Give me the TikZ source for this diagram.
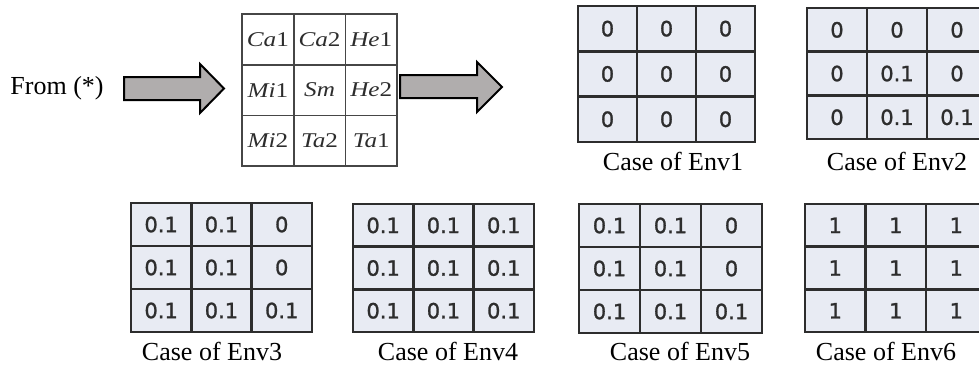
\documentclass[tikz,border=0pt]{standalone}
\usepackage{fontspec}
\setmainfont{Liberation Serif}
\newfontfamily\numfont[FakeBold=1.2]{DejaVu Sans}
\newfontfamily\labfont[FakeStretch=1.2]{Liberation Serif}
\definecolor{cellfill}{RGB}{232,235,243}
\definecolor{gridline}{RGB}{45,45,45}
\definecolor{numgray}{RGB}{45,45,45}
\definecolor{labline}{RGB}{70,70,70}
\definecolor{labtext}{RGB}{45,45,45}
\definecolor{arrowfill}{RGB}{176,173,173}
\tikzset{
  envcell/.style={draw=gridline, line width=2.6pt, fill=cellfill, inner sep=0pt, outer sep=0pt,
    font=\numfont\fontsize{21}{21}\selectfont, text=numgray, anchor=center},
  labcell/.style={draw=labline, line width=1.6pt, fill=white, inner sep=0pt, outer sep=0pt,
    font=\labfont\fontsize{21}{21}\selectfont, text=labtext, anchor=center},
  captext/.style={font=\fontsize{26}{26}\selectfont, inner sep=0pt, anchor=base},
  blockarrow/.style={draw=black, line width=2pt, fill=arrowfill, line join=miter}
}
\newcommand{\envgrid}[6]{%
  \foreach \v [count=\i from 0] in {#6} {
    \pgfmathtruncatemacro\rr{div(\i,3)}
    \pgfmathtruncatemacro\cc{mod(\i,3)}
    \node[envcell, minimum width=#4pt, minimum height=#5pt] (#1-\rr-\cc)
      at ({#2+#4/2+#4*\cc},{#3+#5/2+#5*\rr}) {\v};
  }
}
\newcommand{\labgrid}[6]{%
  \foreach \v [count=\i from 0] in {#6} {
    \pgfmathtruncatemacro\rr{div(\i,3)}
    \pgfmathtruncatemacro\cc{mod(\i,3)}
    \node[labcell, minimum width=#4pt, minimum height=#5pt] (#1-\rr-\cc)
      at ({#2+#4/2+#4*\cc},{#3+#5/2+#5*\rr}) {\v};
  }
}
\begin{document}
\begin{tikzpicture}[x=1pt,y=-1pt]
\clip (0,0) rectangle (979,370);
\fill[white] (0,0) rectangle (979,370);

% source text
\node[font=\fontsize{26}{26}\selectfont, inner sep=0pt] (from) at (57,88) {From (*)};

% block arrows
\draw[blockarrow] (124,77) -- (200,77) -- (200,64) -- (224,88.5) -- (200,113) -- (200,100) -- (124,100) -- cycle;
\draw[blockarrow] (400,75) -- (477,75) -- (477,62) -- (502,87) -- (477,112) -- (477,98) -- (400,98) -- cycle;

% label grid
\labgrid{lab}{242}{14}{51.7}{50.7}{\textit{Ca}1,\textit{Ca}2,\textit{He}1,\textit{Mi}1,\textit{Sm},\textit{He}2,\textit{Mi}2,\textit{Ta}2,\textit{Ta}1}

% environment grids
\envgrid{envA}{578}{6}{59}{45.3}{0,0,0,0,0,0,0,0,0}
\envgrid{envB}{807}{8}{60}{43.7}{0,0,0,0,0.1,0,0,0.1,0.1}
\envgrid{envC}{131}{203}{60.3}{43}{0.1,0.1,0,0.1,0.1,0,0.1,0.1,0.1}
\envgrid{envD}{353}{204}{60.3}{42.7}{0.1,0.1,0.1,0.1,0.1,0.1,0.1,0.1,0.1}
\envgrid{envE}{579}{204}{61}{43}{0.1,0.1,0,0.1,0.1,0,0.1,0.1,0.1}
\envgrid{envF}{805}{204}{60.5}{42.7}{1,1,1,1,1,1,1,1,1}

% captions
\node[captext] (capA) at (673,170) {Case of Env1};
\node[captext] (capB) at (897,170) {Case of Env2};
\node[captext] (capC) at (212,360) {Case of Env3};
\node[captext] (capD) at (448,360) {Case of Env4};
\node[captext] (capE) at (680,360) {Case of Env5};
\node[captext] (capF) at (886,360) {Case of Env6};
\end{tikzpicture}
\end{document}
